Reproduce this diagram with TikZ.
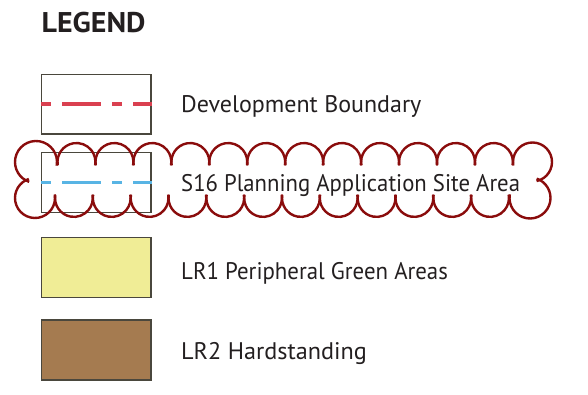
\documentclass[tikz,border=0pt]{standalone}
\usepackage{fontspec}
\setmainfont{PT Sans}
\definecolor{txt}{RGB}{35,31,32}
\definecolor{boxline}{RGB}{74,71,61}
\definecolor{redline}{RGB}{218,64,80}
\definecolor{blueline}{RGB}{88,180,228}
\definecolor{yellowfill}{RGB}{240,237,150}
\definecolor{brownfill}{RGB}{165,123,80}
\definecolor{cloudred}{RGB}{138,12,12}
\tikzset{
  legbox/.style={draw=boxline, line width=1.4pt, minimum width=109.3pt, minimum height=59.8pt, inner sep=0pt},
  legdash/.style={line width=3.4pt, dash pattern=on 10pt off 11pt on 39pt off 11pt},
  legtext/.style={anchor=base west, inner sep=0pt, text=txt, font=\fontsize{24}{28}\selectfont, transform shape},
  cloudline/.style={draw=cloudred, line width=2.4pt}
}
\begin{document}
\begin{tikzpicture}[x=1pt,y=1pt]
\useasboundingbox (0,0) rectangle (588,395);
% title
\node[anchor=base west, inner sep=0pt, text=txt, font=\fontsize{28.5}{32}\selectfont\bfseries, transform shape, xscale=1.05] (title) at (41.5,362) {LEGEND};
% boxes
\node[legbox, fill=white] (b1) at (96.35,290.85) {};
\node[legbox, fill=white] (b2) at (96.35,212.3) {};
\node[legbox, fill=yellowfill] (b3) at (96.35,127.5) {};
\node[legbox, fill=brownfill] (b4) at (96.35,45) {};
\draw[legdash, redline] (b1.west) -- (b1.east);
\draw[legdash, blueline] (b2.west) -- (b2.east);
% labels
\node[legtext] (t1) at (181,282.3) {Development Boundary};
\node[legtext, xscale=0.947] (t2) at (181,203.3) {S16 Planning Application Site Area};
\node[legtext, xscale=0.952] (t3) at (181,115) {LR1 Peripheral Green Areas};
\node[legtext, xscale=1.01] (t4) at (181,35) {LR2 Hardstanding};
% revision cloud
\foreach \k in {0,...,11} {
  \pgfmathsetmacro\cx{57.5+37.95*(\k+0.5)}
  \draw[cloudline] (\cx,233) ++(190:18.97) arc[start angle=190, end angle=-10, radius=18.97];
  \pgfmathsetmacro\bx{55+37.83*(\k+0.5)}
  \draw[cloudline] (\bx,197) ++(170:18.9) arc[start angle=170, end angle=370, radius=18.9];
}
\draw[cloudline] (36,233) ++(-10:21) arc[start angle=-10, end angle=251, radius=21];
\draw[cloudline] (35,197) ++(10:20) arc[start angle=10, end angle=-252, radius=20];
\draw[cloudline] (532.5,233) ++(190:19.5) arc[start angle=190, end angle=-78, radius=19.5];
\draw[cloudline] (530,197) ++(170:20.5) arc[start angle=170, end angle=431, radius=20.5];
\end{tikzpicture}
\end{document}
